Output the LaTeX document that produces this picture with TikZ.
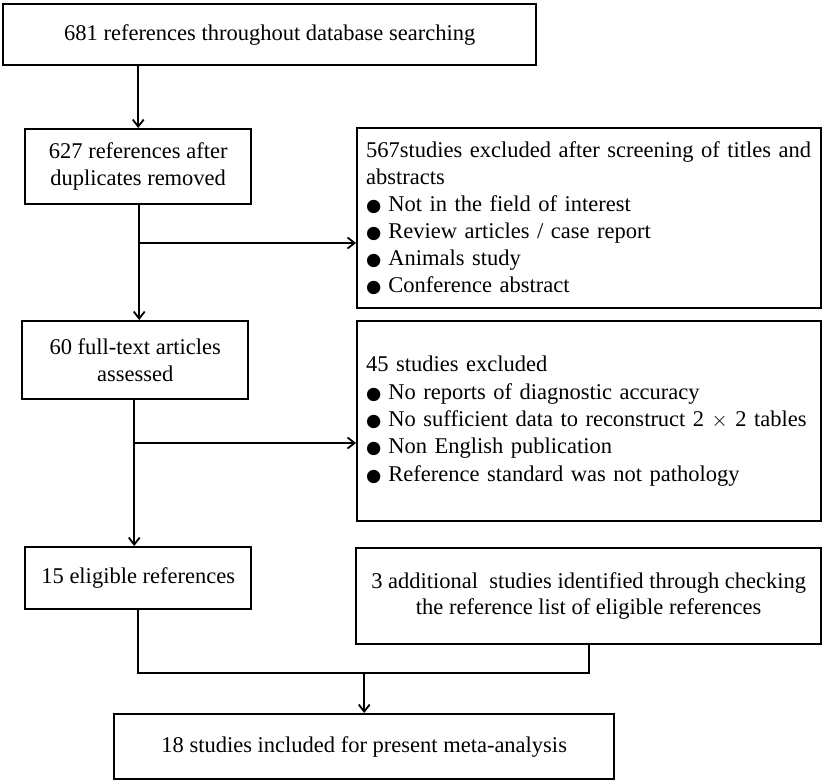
\documentclass[tikz,border=0pt]{standalone}
\usepackage{fontspec}
\setmainfont{Liberation Serif}
\newfontfamily\symfont{DejaVu Sans}
\usetikzlibrary{arrows.meta,calc}
\newcommand{\bul}{{\symfont\fontsize{17.5}{20}\selectfont ●}\hspace{7pt}}
\tikzset{
  box/.style={draw=black, line width=2.4pt, fill=white, inner xsep=9pt, inner ysep=0pt,
    font=\fontsize{22.5}{26.5}\selectfont, anchor=north west},
  conn/.style={line width=1.8pt, draw=black},
  arr/.style={conn, -{Straight Barb[length=7pt,width=11pt,line width=1.8pt]}}
}
\begin{document}
\begin{tikzpicture}[x=1pt,y=1pt]
\useasboundingbox (0,0) rectangle (828,-781);
\node[box, minimum width=533pt, minimum height=61pt, align=center] (b1) at (2,-3)
  {681 references throughout database searching};
\node[box, minimum width=226pt, minimum height=75pt, align=center] (b2) at (24,-128)
  {627 references after\\duplicates removed};
\node[box, minimum width=464pt, minimum height=180pt, text width=446pt, align=left,
  font=\fontsize{22.5}{27}\selectfont] (b3) at (356,-127)
  {567studies excluded after screening of titles and\\abstracts\\
   \bul Not in the field of interest\\
   \bul Review articles / case report\\
   \bul Animals study\\
   \bul Conference abstract};
\node[box, minimum width=226pt, minimum height=78pt, align=center] (b4) at (21,-320)
  {60 full-text articles\\assessed};
\node[box, minimum width=464pt, minimum height=200pt, text width=446pt, align=left,
  font=\fontsize{22.5}{27.3}\selectfont] (b5) at (356,-320)
  {45 studies excluded\\
   \bul No reports of diagnostic accuracy\\
   \bul No sufficient data to reconstruct 2 $\times$ 2 tables\\
   \bul Non English publication\\
   \bul Reference standard was not pathology};
\node[box, minimum width=226pt, minimum height=62pt, align=center] (b6) at (24,-546)
  {15 eligible references};
\node[box, minimum width=465pt, minimum height=96pt, align=center] (b7) at (355,-547)
  {3 additional\ \ studies identified through checking\\the reference list of eligible references};
\node[box, minimum width=500pt, minimum height=65pt, align=center] (b8) at (113,-713)
  {18 studies included for present meta-analysis};
% connectors
\draw[arr] (b1.south -| b2.north) -- (b2.north);
\coordinate (s2) at ($(b2.south)+(1,0)$);
\draw[arr] (s2) -- (s2 |- b4.north);
\coordinate (j1) at (s2 |- 0,-243);
\draw[arr] (j1) -- (j1 -| b3.west);
\coordinate (s4) at ($(b4.south)+(-1,0)$);
\draw[arr] (s4) -- (s4 |- b6.north);
\coordinate (j2) at (s4 |- 0,-443);
\draw[arr] (j2) -- (j2 -| b5.west);
\coordinate (j3) at (b6.south |- 0,-673);
\draw[conn] (b6.south) -- (j3) -- (j3 -| b7.south) -- (b7.south);
\coordinate (j4) at (b8.north |- j3);
\draw[arr] (j4) -- (b8.north);
\end{tikzpicture}
\end{document}
